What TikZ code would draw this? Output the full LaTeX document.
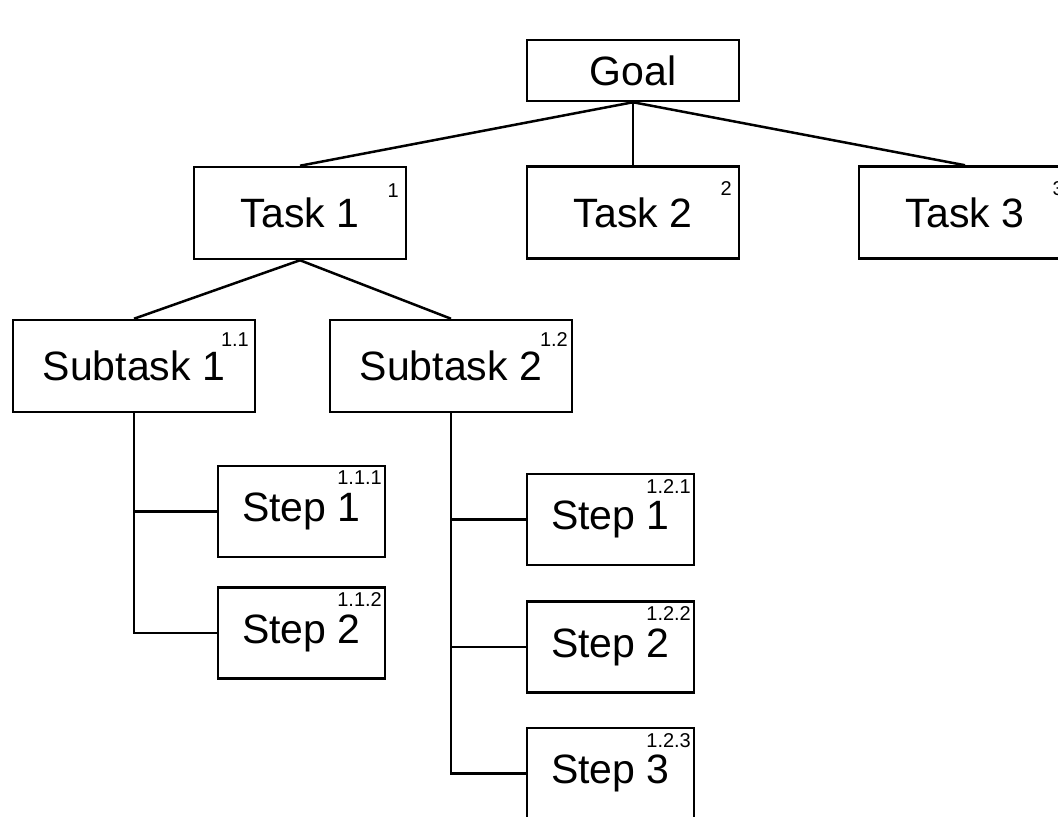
\documentclass[tikz,border=0pt]{standalone}
\usepackage{fontspec}
\setmainfont{Liberation Sans}
\tikzset{
	box/.style={draw,line width=1.25pt,rectangle,inner sep=0pt,font=\fontsize{20.5pt}{24pt}\selectfont},
	goalbox/.style={box,minimum width=106pt,minimum height=30.5pt},
	taskbox/.style={box,minimum width=106pt,minimum height=46pt},
	subbox/.style={box,minimum width=121pt,minimum height=46pt},
	stepbox/.style={box,minimum width=83.5pt,minimum height=45.5pt},
	num/.style={inner sep=0pt,anchor=north east,font=\fontsize{10pt}{12pt}\selectfont},
	link/.style={line width=1.25pt}
}
\begin{document}
\begin{tikzpicture}[x=0.5pt,y=-0.5pt]
		\useasboundingbox (0,0) rectangle (1058,817);
		\clip (0,0) rectangle (1058,817);
		% goal and tasks
		\node[goalbox] (goal) at (633,70.5) {Goal};
		\node[taskbox] (t1) at (300,213) {Task 1};
		\node[taskbox] (t2) at (633,212.5) {Task 2};
		\node[taskbox] (t3) at (965,212.5) {Task 3};
		\node[num] (n1) at ([shift={(-8,18)}]t1.north east) {1};
		\node[num] (n2) at ([shift={(-8,16)}]t2.north east) {2};
		\node[num] (n3) at ([shift={(-8,16)}]t3.north east) {3};
		% subtasks
		\node[subbox] (s1) at (134,366) {Subtask 1};
		\node[subbox] (s2) at (451,366) {Subtask 2};
		\node[num] (n11) at ([shift={(-7,14)}]s1.north east) {1.1};
		\node[num] (n12) at ([shift={(-5,13)}]s2.north east) {1.2};
		% steps
		\node[stepbox] (s11) at (301.5,511.5) {Step 1};
		\node[stepbox] (s12) at (301.5,633) {Step 2};
		\node[stepbox] (s21) at (610.5,519.5) {Step 1};
		\node[stepbox] (s22) at (610.5,647) {Step 2};
		\node[stepbox] (s23) at (610.5,773.5) {Step 3};
		\foreach \s/\t in {s11/1.1.1,s12/1.1.2,s21/1.2.1,s22/1.2.2,s23/1.2.3}
			\node[num] (n\s) at ([shift={(-4,6)}]\s.north east) {\t};
		% connections
		\foreach \t in {t1,t2,t3}
			\draw[link] (goal.south) -- (\t.north);
		\draw[link] (t1.south) -- (s1.north) (t1.south) -- (s2.north);
		\draw[link] (s1.south) |- (s11.west) (s1.south) |- (s12.west);
		\draw[link] (s2.south) |- (s21.west) (s2.south) |- (s22.west) (s2.south) |- (s23.west);
	\end{tikzpicture}
\end{document}
